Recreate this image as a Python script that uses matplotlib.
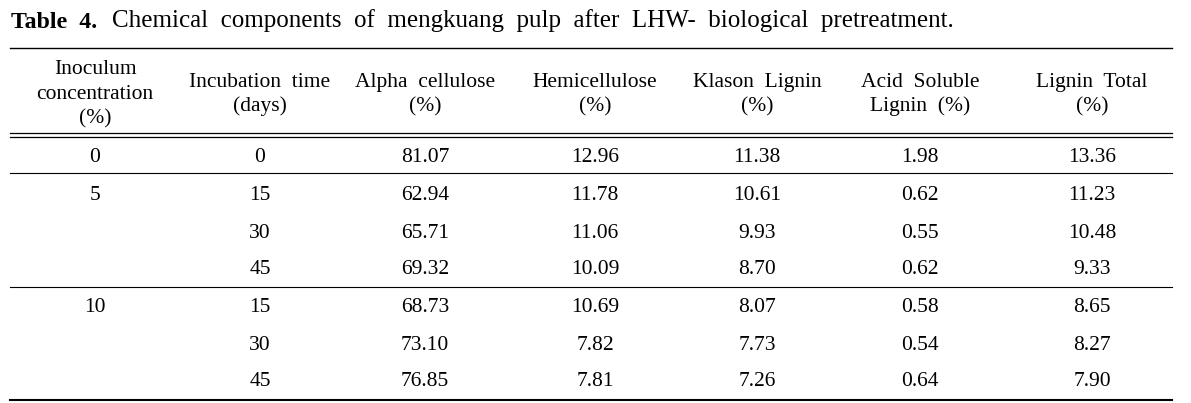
import matplotlib.pyplot as plt

plt.rcParams['font.family'] = ['Liberation Serif', 'DejaVu Serif']

title_bold = 'Table  4.'
title_text = 'Chemical  components  of  mengkuang  pulp  after  LHW-  biological  pretreatment.'

headers = [
    'Inoculum\nconcentration\n(%)',
    'Incubation  time\n(days)',
    'Alpha  cellulose\n(%)',
    'Hemicellulose\n(%)',
    'Klason  Lignin\n(%)',
    'Acid  Soluble\nLignin  (%)',
    'Lignin  Total\n(%)',
]

inoculum = ['0', '5', '', '', '10', '', '']
days = ['0', '15', '30', '45', '15', '30', '45']
alpha = ['81.07', '62.94', '65.71', '69.32', '68.73', '73.10', '76.85']
hemi = ['12.96', '11.78', '11.06', '10.09', '10.69', '7.82', '7.81']
klason = ['11.38', '10.61', '9.93', '8.70', '8.07', '7.73', '7.26']
acid = ['1.98', '0.62', '0.55', '0.62', '0.58', '0.54', '0.64']
total = ['13.36', '11.23', '10.48', '9.33', '8.65', '8.27', '7.90']

col_x = [95, 260, 425, 595, 757, 920, 1092]
row_y = [155, 194, 231, 268, 306, 343, 380]   # visual centre of each row
fs = 15.5
half_digit = 6.5   # baseline sits this far below the visual centre
line_gap = 24.5

fig = plt.figure(figsize=(11.91, 4.03), dpi=100)
ax = fig.add_axes([0, 0, 1, 1])
ax.set_xlim(0, 1191)
ax.set_ylim(403, 0)
ax.axis('off')

# title
ax.text(11, 27.5, title_bold, fontsize=17.2, fontweight='bold', va='baseline', ha='left')
ax.text(112, 27.5, title_text, fontsize=18.0, va='baseline', ha='left')

# rules
x0, x1 = 10, 1172
ax.plot([x0, x1], [47.5, 47.5], color='black', lw=1.0)
ax.plot([x0, x1], [133, 133], color='black', lw=0.9)
ax.plot([x0, x1], [136.5, 136.5], color='black', lw=0.9)
ax.plot([x0, x1], [172.5, 172.5], color='black', lw=0.8)
ax.plot([x0, x1], [287, 287], color='black', lw=0.8)
ax.plot([x0, x1], [400, 400], color='black', lw=1.5)

# header, one line at a time
for x, h in zip(col_x, headers):
    lines = h.split('\n')
    top = 92.5 - (len(lines) - 1) * line_gap / 2
    for i, ln in enumerate(lines):
        ax.text(x, top + i * line_gap + half_digit, ln, fontsize=fs,
                ha='center', va='baseline')

# body
columns = [inoculum, days, alpha, hemi, klason, acid, total]
for x, col in zip(col_x, columns):
    for y, v in zip(row_y, col):
        ax.text(x, y + half_digit, v, fontsize=fs, ha='center', va='baseline')

fig.savefig('out.png', dpi=100)
